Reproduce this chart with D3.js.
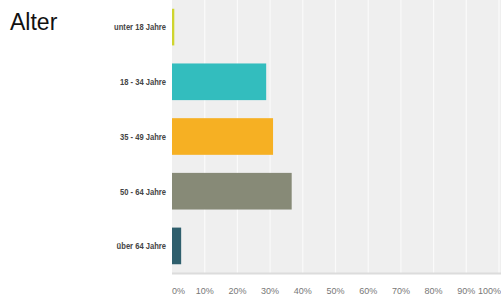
<!DOCTYPE html>
<html>
<head>
<meta charset="utf-8">
<script src="https://cdn.jsdelivr.net/npm/d3@7"></script>
<style>
  body { margin: 0; background: #fff; }
  svg { display: block; font-family: "Liberation Sans", Arial, sans-serif; }
</style>
</head>
<body>
<svg id="chart" width="501" height="296"></svg>
<script>
var title = 'Alter';
var categories = ['unter 18 Jahre', '18 - 34 Jahre', '35 - 49 Jahre', '50 - 64 Jahre', 'über 64 Jahre'];
var values = [0.7, 28.8, 30.9, 36.6, 2.8];
var colors = ['#cfd52f', '#33bdbe', '#f6b023', '#878a77', '#2f5f6d'];
var ticks = [0, 10, 20, 30, 40, 50, 60, 70, 80, 90, 100];

var svg = d3.select('#chart');
// plot box (don't call these top/left, window.top is taken)
var plotLeft = 172, plotRight = 499, plotTop = 0, plotBottom = 273;

var x = d3.scaleLinear().domain([0, 100]).range([plotLeft, plotRight]);
var y = d3.scaleBand().domain(categories).range([plotTop, plotBottom]).paddingInner(0.33).paddingOuter(0.16);

// plot background
svg.append('rect')
  .attr('x', plotLeft).attr('y', plotTop)
  .attr('width', 501 - plotLeft).attr('height', plotBottom - plotTop)
  .attr('fill', '#efefef');

// grid lines
svg.append('g').selectAll('line')
  .data(ticks.slice(1))
  .enter().append('line')
  .attr('x1', function(d) { return x(d); })
  .attr('x2', function(d) { return x(d); })
  .attr('y1', plotTop).attr('y2', plotBottom)
  .attr('stroke', '#fafafa')
  .attr('stroke-width', 1.2);

// bottom axis line
svg.append('line')
  .attr('x1', plotLeft).attr('x2', 501)
  .attr('y1', plotBottom + 0.5).attr('y2', plotBottom + 0.5)
  .attr('stroke', '#dcdcdc').attr('stroke-width', 2);

// bars
svg.append('g').selectAll('rect')
  .data(values)
  .enter().append('rect')
  .attr('x', x(0))
  .attr('y', function(d, i) { return y(categories[i]); })
  .attr('width', function(d) { return x(d) - x(0); })
  .attr('height', y.bandwidth())
  .attr('fill', function(d, i) { return colors[i]; });

// category labels, squeezed a bit (no narrow font installed)
svg.append('g').selectAll('text')
  .data(categories)
  .enter().append('text')
  .attr('transform', function(d) {
    return 'translate(166,' + (y(d) + y.bandwidth() / 2) + ') scale(0.8,1)';
  })
  .attr('dy', '0.35em')
  .attr('text-anchor', 'end')
  .attr('font-size', 9.5)
  .attr('font-weight', 'bold')
  .attr('fill', '#444')
  .text(function(d) { return d; });

// tick labels
svg.append('g').selectAll('text')
  .data(ticks)
  .enter().append('text')
  .attr('x', function(d) { return d === 100 ? 501 : x(d); })
  .attr('y', 294)
  .attr('text-anchor', function(d) { return d === 0 ? 'start' : (d === 100 ? 'end' : 'middle'); })
  .attr('font-size', 9)
  .attr('fill', '#777')
  .text(function(d) { return d + '%'; });

// title
svg.append('text')
  .attr('x', 10).attr('y', 30)
  .attr('font-size', 23)
  .attr('fill', '#111')
  .text(title);
</script>
</body>
</html>
